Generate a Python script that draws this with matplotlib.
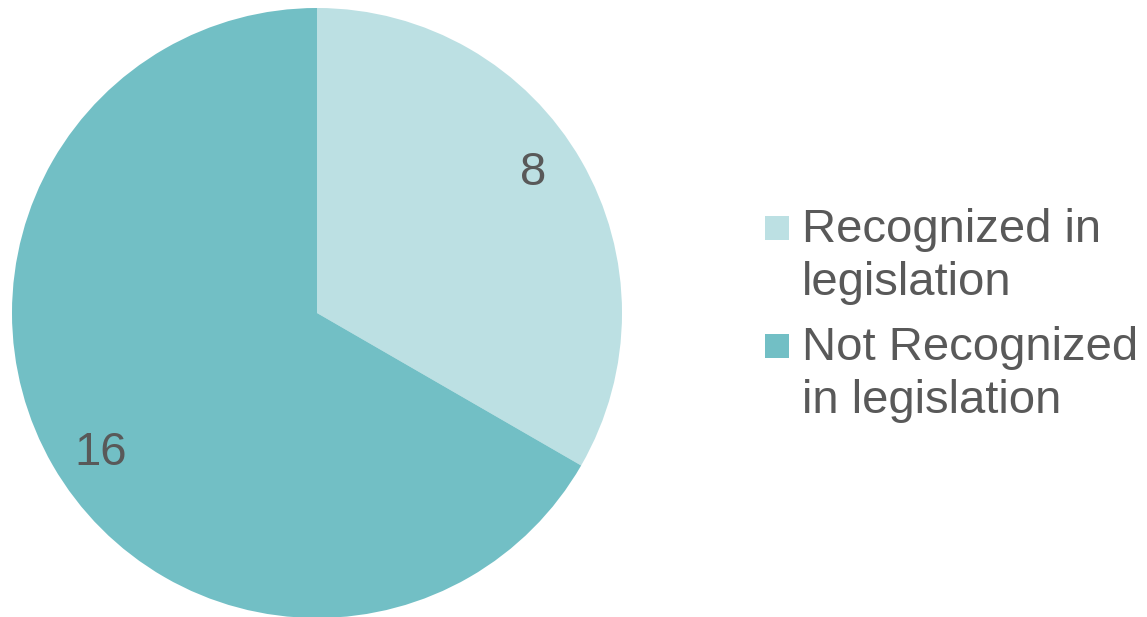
import matplotlib
matplotlib.use("Agg")
import numpy as np
import matplotlib.pyplot as plt
from matplotlib.patches import Rectangle

categories = ["Recognized in\nlegislation", "Not Recognized\nin legislation"]
values = [8, 16]
colors = ["#BCE0E3", "#72BFC5"]
text_color = "#595959"

plt.rcParams['font.family'] = ['Liberation Sans', 'DejaVu Sans']

W, H = 1147, 617
fig = plt.figure(figsize=(W / 100, H / 100), dpi=100)
cx, cy, r = 317, 313, 305
ax = fig.add_axes([(cx - r) / W, (H - cy - r) / H, 2 * r / W, 2 * r / H])
wedges, _ = ax.pie(values, colors=colors, startangle=90, counterclock=False,
                   radius=1, wedgeprops=dict(linewidth=0))
for w, v in zip(wedges, values):
    mid = np.deg2rad((w.theta1 + w.theta2) / 2 + 3)
    ax.text(0.845 * np.cos(mid), 0.845 * np.sin(mid), str(v), fontsize=34,
            color=text_color, ha='center', va='center')
ax.set_xlim(-1, 1)
ax.set_ylim(-1, 1)
ax.set_aspect('equal')
ax.axis('off')

# legend (pixel layout)
item_baselines = [242, 360]
line_gap = 53
sq = 24
for cat, col, base in zip(categories, colors, item_baselines):
    fig.patches.append(Rectangle((765 / W, (H - base + 2) / H), sq / W, sq / H,
                                 transform=fig.transFigure, facecolor=col,
                                 edgecolor='none'))
    for i, line in enumerate(cat.split("\n")):
        fig.text(802 / W, (H - base - i * line_gap) / H, line, fontsize=34,
                 color=text_color, ha='left', va='baseline')

fig.savefig("out.png", dpi=100)
